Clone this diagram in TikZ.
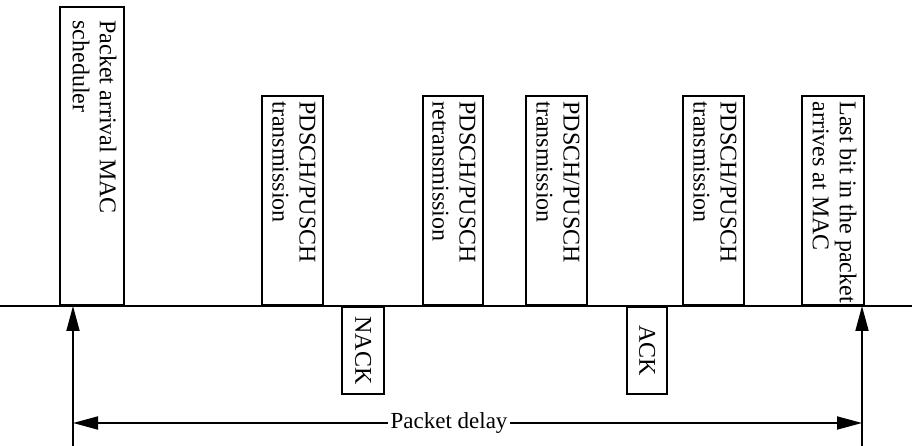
\documentclass[tikz,border=0pt]{standalone}
\usepackage{fontspec}
\setmainfont{Liberation Serif}
\usepackage{tikz}
\usetikzlibrary{positioning,calc,arrows.meta}
\tikzstyle{slot}=[draw, line width=1.8pt, inner sep=0pt, anchor=south west]
\tikzstyle{fb}=[draw, line width=1.8pt, inner sep=0pt, rotate=-90, anchor=north west, font=\fontsize{24}{27}\selectfont]
\tikzstyle{txt}=[rotate=-90, anchor=north west, align=left, inner xsep=6pt, inner ysep=8pt, font=\fontsize{24}{27}\selectfont]
\tikzstyle{delay}=[line width=1.8pt, -{Triangle[length=25pt,width=13pt]}]

\begin{document}
\begin{tikzpicture}[x=1pt,y=1pt]
						\useasboundingbox (0,0) rectangle (912,446);
						% time axis
						\coordinate (l) at (0,140);
						\coordinate (r) at (912,140);
						\draw[line width=1.9pt] (l) -- (r);
						% slots above the axis
						\node[slot, minimum width=64, minimum height=298] (arrival) at (59,140) {};
						\node[slot, minimum width=61, minimum height=209] (tx1) at (261,140) {};
						\node[slot, minimum width=60, minimum height=209] (retx) at (422,140) {};
						\node[slot, minimum width=61, minimum height=209] (tx2) at (525,140) {};
						\node[slot, minimum width=61, minimum height=209] (tx3) at (682,140) {};
						\node[slot, minimum width=62, minimum height=209] (lastbit) at (801,140) {};
						\node[txt, inner xsep=14pt] (arrivaltxt) at (arrival.north east) {Packet arrival MAC\\scheduler};
						\node[txt] (tx1txt) at (tx1.north east) {PDSCH/PUSCH\\transmission};
						\node[txt] (retxtxt) at (retx.north east) {PDSCH/PUSCH\\retransmission};
						\node[txt] (tx2txt) at (tx2.north east) {PDSCH/PUSCH\\transmission};
						\node[txt] (tx3txt) at (tx3.north east) {PDSCH/PUSCH\\transmission};
						\node[txt] (lastbittxt) at (lastbit.north east) {Last bit in the packet\\arrives at MAC};
						% feedback below the axis
						\node[fb, minimum width=87, minimum height=42] (nack) at (385,140) {NACK};
						\node[fb, minimum width=87, minimum height=40] (ack) at (668,140) {ACK};
						% packet delay
						\coordinate (s0) at (73,0);
						\coordinate (s1) at (73,140);
						\coordinate (e0) at (862,0);
						\coordinate (e1) at (862,140);
						\coordinate (d0) at (73,23);
						\coordinate (d1) at (862,23);
						\draw[delay] (s0) -- (s1);
						\draw[delay] (e0) -- (e1);
						\draw[delay, {Triangle[length=25pt,width=13pt]}-{Triangle[length=25pt,width=13pt]}] (d0) -- (d1)
							node[pos=0.4766, fill=white, inner xsep=3pt, inner ysep=1pt, font=\fontsize{23}{26}\selectfont] (delaylbl) {Packet delay};
					\end{tikzpicture}
\end{document}
